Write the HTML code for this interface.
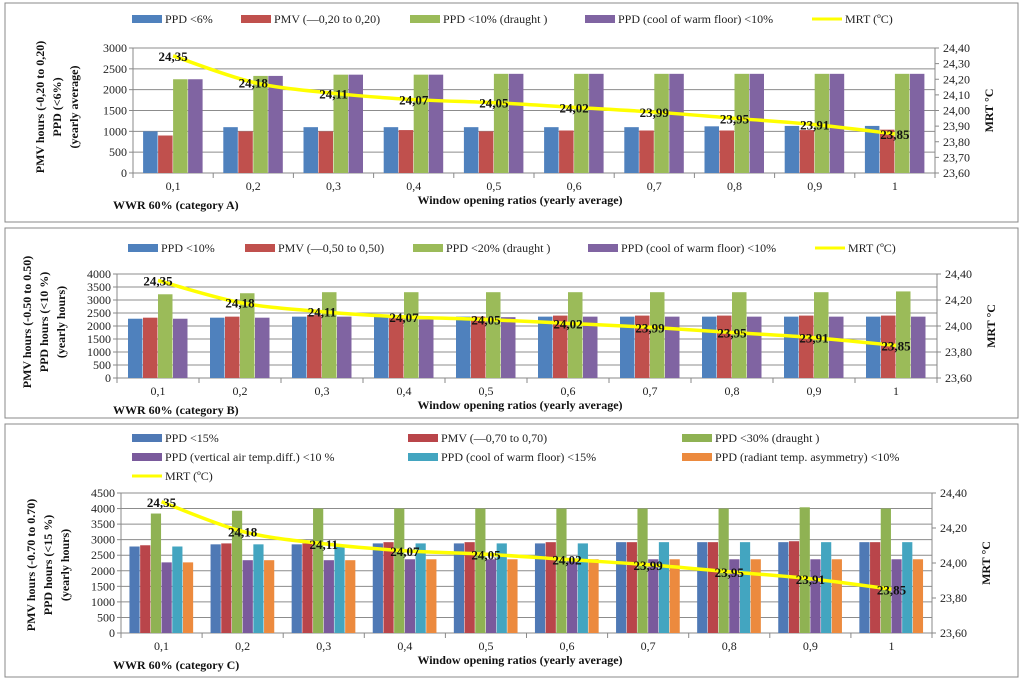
<!DOCTYPE html>
<html><head><meta charset="utf-8"><style>
body{margin:0;background:#fff;width:1024px;height:682px;overflow:hidden}
svg{display:block;font-family:"Liberation Serif",serif}
</style></head><body>
<svg id="c" width="1024" height="682"></svg>
<script>
const categories=["0,1","0,2","0,3","0,4","0,5","0,6","0,7","0,8","0,9","1"];
const mrt=[24.35,24.18,24.11,24.07,24.05,24.02,23.99,23.95,23.91,23.85];
const mrtLabels=["24,35","24,18","24,11","24,07","24,05","24,02","23,99","23,95","23,91","23,85"];
// Panel A
const aPPD6=[1000,1100,1100,1100,1100,1100,1100,1120,1130,1130];
const aPMV=[900,1000,1000,1030,1000,1020,1020,1020,1030,1040];
const aPPD10=[2250,2330,2360,2360,2380,2380,2380,2380,2380,2380];
const aFloor=[2250,2330,2360,2360,2380,2380,2380,2380,2380,2380];
const aLeftTicks=[0,500,1000,1500,2000,2500,3000];
const aRightTicks=["23,60","23,70","23,80","23,90","24,00","24,10","24,20","24,30","24,40"];
// Panel B
const bPPD10=[2280,2320,2360,2360,2360,2360,2360,2360,2360,2360];
const bPMV=[2320,2360,2420,2300,2360,2400,2400,2400,2400,2400];
const bPPD20=[3220,3260,3300,3300,3300,3300,3300,3300,3300,3330];
const bFloor=[2280,2320,2360,2250,2340,2360,2360,2360,2360,2360];
const bLeftTicks=[0,500,1000,1500,2000,2500,3000,3500,4000];
const bRightTicks=["23,60","23,80","24,00","24,20","24,40"];
// Panel C
const cPPD15=[2780,2850,2850,2880,2880,2880,2920,2920,2920,2920];
const cPMV=[2820,2880,2880,2920,2920,2920,2920,2920,2950,2920];
const cPPD30=[3840,3930,4000,4000,4000,4000,4000,4000,4040,4000];
const cVert=[2270,2340,2340,2370,2370,2370,2370,2370,2370,2370];
const cFloor=[2780,2850,2800,2880,2880,2880,2920,2920,2920,2920];
const cRad=[2270,2340,2340,2370,2370,2370,2370,2370,2370,2370];
const cLeftTicks=[0,500,1000,1500,2000,2500,3000,3500,4000,4500];
const cRightTicks=["23,60","23,80","24,00","24,20","24,40"];

const NS="http://www.w3.org/2000/svg";
const svg=document.getElementById('c');
function mk(tag,attrs,parent,text){const e=document.createElementNS(NS,tag);for(const k in attrs)e.setAttribute(k,attrs[k]);if(text!==undefined)e.textContent=text;(parent||svg).appendChild(e);return e;}

function panel(p){
  const g=mk('g',{});
  
  
  const fr=mk('rect',{x:p.box[0],y:p.box[1],width:p.box[2],height:p.box[3],fill:'#fff',stroke:'#888','stroke-width':1},g);
  
  
  const L=p.left,R=p.right,T=p.top,B=p.bottom,max=p.max;
  const y=v=>B-(v/max)*(B-T);
  const yr=v=>B-((v-23.6)/0.8)*(B-T);
  const cw=(R-L)/categories.length;
  // grid
  p.leftTicks.forEach(t=>{
    const gl=mk('line',{x1:L,x2:R,y1:y(t),y2:y(t),stroke:'#8c8c8c','stroke-width':1},g);
    
    
    const tl=mk('text',{x:L-6,y:y(t)+4,'text-anchor':'end','font-size':12,fill:'#222'},g,String(t));
    
    
    mk('line',{x1:L-4,x2:L,y1:y(t),y2:y(t),stroke:'#888'},g);
  });
  p.rightTicks.forEach((t,i)=>{
    const yy=B-i*(B-T)/(p.rightTicks.length-1);
    mk('line',{x1:R,x2:R+4,y1:yy,y2:yy,stroke:'#888'},g);
    const tl=mk('text',{x:R+8,y:yy+4,'font-size':12,fill:'#222'},g,t);
    
    
  });
  mk('line',{x1:L,x2:L,y1:T,y2:B,stroke:'#888'},g);
  mk('line',{x1:R,x2:R,y1:T,y2:B,stroke:'#888'},g);
  mk('line',{x1:L,x2:R,y1:B,y2:B,stroke:'#888'},g);
  // bars
  const n=p.series.length,bw=p.bw,gw=n*bw;
  categories.forEach((c,i)=>{
    const cx=L+cw*(i+0.5);
    mk('line',{x1:L+cw*i,x2:L+cw*i,y1:B,y2:B+5,stroke:'#888'},g);
    const xl=mk('text',{x:cx,y:B+17,'text-anchor':'middle','font-size':12,fill:'#222'},g,c);
    
    
    p.series.forEach((s,j)=>{
      const v=s.data[i];
      const r=mk('rect',{x:cx-gw/2+j*bw,y:y(v),width:bw-0.5,height:B-y(v),fill:s.color},g);
      
      
    });
  });
  mk('line',{x1:R,x2:R,y1:B,y2:B+5,stroke:'#888'},g);
  // MRT line smooth
  const pts=mrt.map((v,i)=>[L+cw*(i+0.5),yr(v)]);
  let d='M'+pts[0][0]+','+pts[0][1];
  for(let i=0;i<pts.length-1;i++){
    const p0=pts[Math.max(0,i-1)],p1=pts[i],p2=pts[i+1],p3=pts[Math.min(pts.length-1,i+2)];
    const c1=[p1[0]+(p2[0]-p0[0])/6,p1[1]+(p2[1]-p0[1])/6],c2=[p2[0]-(p3[0]-p1[0])/6,p2[1]-(p3[1]-p1[1])/6];
    d+=' C'+c1+' '+c2+' '+p2;
  }
  const ln=mk('path',{d:d,fill:'none',stroke:'#ffff00','stroke-width':3.5},g);
  
  
  pts.forEach((pt,i)=>{
    const t=mk('text',{x:pt[0],y:pt[1]+5,'text-anchor':'middle','font-size':13,'font-weight':'bold',fill:'#111'},g,mrtLabels[i]);
    
    
  });
  // axis titles
  const at=mk('text',{transform:`translate(${p.ytx},${p.yty}) rotate(-90)`,'text-anchor':'middle','font-size':12,'font-weight':'bold',fill:'#111'},g);
  
  
  p.ytitle.forEach((s,i)=>{mk('tspan',{x:0,y:i*17},at,s);});
  const rt=mk('text',{transform:`translate(${R+58},${(T+B)/2}) rotate(-90)`,'text-anchor':'middle','font-size':12,'font-weight':'bold',fill:'#111'},g,'MRT °C');
  
  
  const xt=mk('text',{x:520,y:B+31,'text-anchor':'middle','font-size':12,'font-weight':'bold',fill:'#111'},g,'Window  opening  ratios (yearly average)');
  
  
  const ct=mk('text',{x:113,y:B+36,'font-size':12,'font-weight':'bold',fill:'#111'},g,p.cat);
  
  
  // legend
  p.legend.forEach(it=>{
    const lg=mk('g',{},g);
    
    
    if(it.line) mk('line',{x1:it.x,x2:it.x+30,y1:it.y,y2:it.y,stroke:'#ffff00','stroke-width':3},lg);
    else mk('rect',{x:it.x,y:it.y-4,width:30,height:8,fill:it.color},lg);
    mk('text',{x:it.x+33,y:it.y+4,'font-size':12,fill:'#222'},lg,it.text);
  });
}

panel({name:'panel-category-a',box:[5,3,1013,219],left:133,right:935,top:48,bottom:173,max:3000,bw:15,
  leftTicks:aLeftTicks,rightTicks:aRightTicks,cat:'WWR 60% (category A)',ytx:44,yty:107,
  ytitle:['PMV hours (-0,20 to 0,20)','PPD (<6%)','(yearly average)'],
  series:[{key:'ppd6',data:aPPD6,color:'#4f81bd'},{key:'pmv',data:aPMV,color:'#c0504d'},{key:'ppd10',data:aPPD10,color:'#9bbb59'},{key:'floor',data:aFloor,color:'#8064a2'}],
  legend:[{x:132,y:19,color:'#4f81bd',text:'PPD <6%'},{x:241,y:19,color:'#c0504d',text:'PMV (—0,20 to 0,20)'},{x:410,y:19,color:'#9bbb59',text:'PPD <10% (draught )'},{x:585,y:19,color:'#8064a2',text:'PPD (cool of warm floor) <10%'},{x:812,y:19,line:1,text:'MRT (ºC)'}]});

panel({name:'panel-category-b',box:[5,228,1013,190],left:117,right:937,top:274,bottom:378,max:4000,bw:15,
  leftTicks:bLeftTicks,rightTicks:bRightTicks,cat:'WWR 60% (category B)',ytx:31,yty:322,
  ytitle:['PMV hours (-0.50 to 0.50)','PPD hours (<10 %)','(yearly hours)'],
  series:[{key:'ppd10',data:bPPD10,color:'#4f81bd'},{key:'pmv',data:bPMV,color:'#c0504d'},{key:'ppd20',data:bPPD20,color:'#9bbb59'},{key:'floor',data:bFloor,color:'#8064a2'}],
  legend:[{x:128,y:248,color:'#4f81bd',text:'PPD <10%'},{x:245,y:248,color:'#c0504d',text:'PMV (—0,50 to 0,50)'},{x:413,y:248,color:'#9bbb59',text:'PPD <20% (draught )'},{x:588,y:248,color:'#8064a2',text:'PPD (cool of warm floor) <10%'},{x:815,y:248,line:1,text:'MRT (ºC)'}]});

panel({name:'panel-category-c',box:[5,424,1013,253],left:121,right:932,top:493,bottom:633,max:4500,bw:10.7,
  leftTicks:cLeftTicks,rightTicks:cRightTicks,cat:'WWR 60% (category C)',ytx:35,yty:565,
  ytitle:['PMV hours (-0.70 to 0.70)','PPD hours (<15 %)','(yearly hours)'],
  series:[{key:'ppd15',data:cPPD15,color:'#4f79b5'},{key:'pmv',data:cPMV,color:'#b9454a'},{key:'ppd30',data:cPPD30,color:'#8fb253'},{key:'vertical',data:cVert,color:'#7a5a9c'},{key:'floor',data:cFloor,color:'#43a5c0'},{key:'radiant',data:cRad,color:'#ec8a3e'}],
  legend:[{x:132,y:438,color:'#4f79b5',text:'PPD <15%'},{x:408,y:438,color:'#b9454a',text:'PMV (—0,70 to 0,70)'},{x:682,y:438,color:'#8fb253',text:'PPD <30% (draught )'},
    {x:132,y:457,color:'#7a5a9c',text:'PPD (vertical air temp.diff.) <10 %'},{x:408,y:457,color:'#43a5c0',text:'PPD (cool of warm floor) <15%'},{x:682,y:457,color:'#ec8a3e',text:'PPD (radiant temp. asymmetry) <10%'},
    {x:132,y:476,line:1,text:'MRT (ºC)'}]});
</script>
</body></html>
